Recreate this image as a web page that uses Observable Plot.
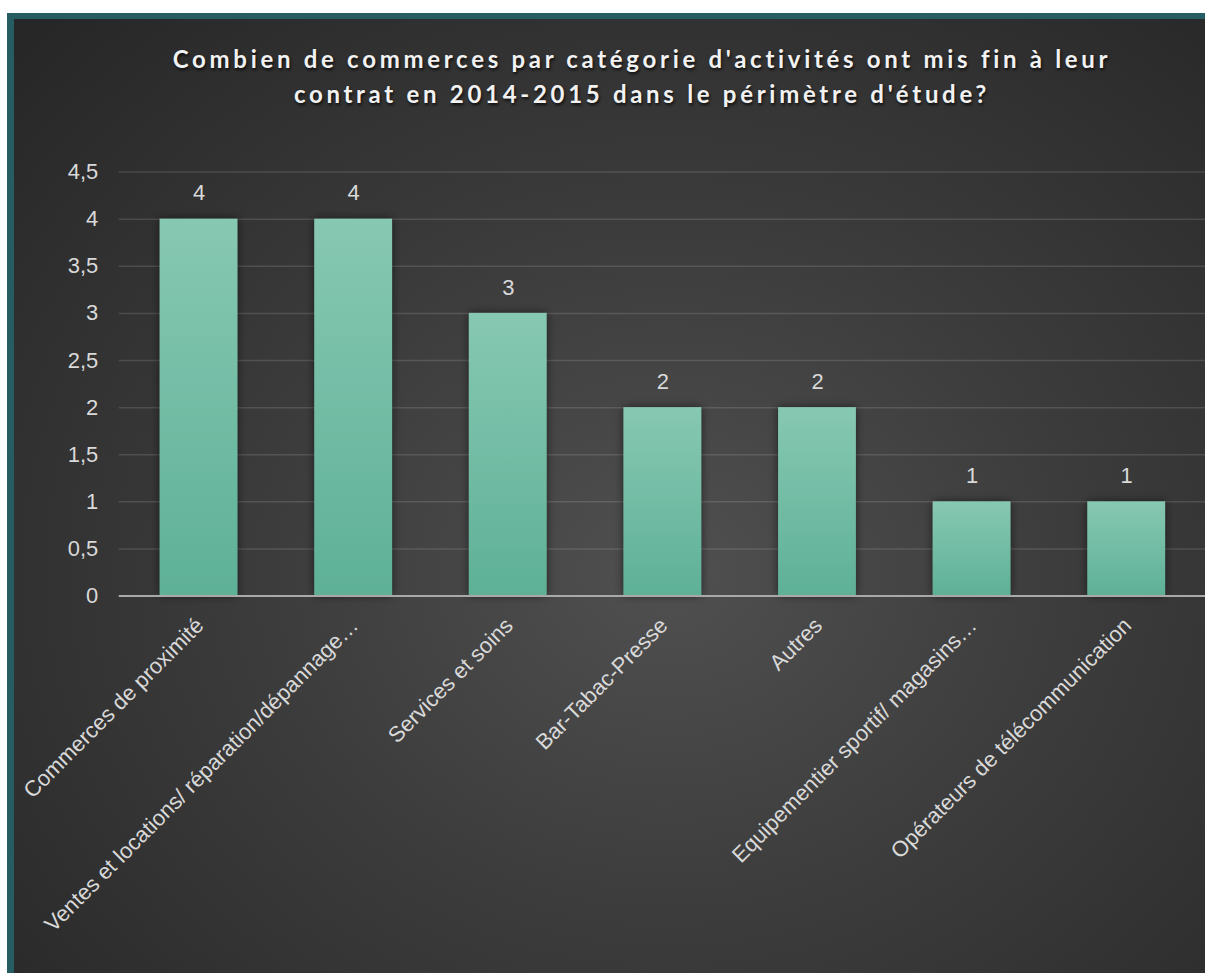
<!DOCTYPE html>
<html>
<head>
<meta charset="utf-8">
<script src="https://cdn.jsdelivr.net/npm/d3@7"></script>
<script src="https://cdn.jsdelivr.net/npm/@observablehq/plot@0.6"></script>
<style>
  html, body { margin: 0; padding: 0; background: #ffffff; width: 1205px; height: 973px; overflow: hidden; }
  #frame {
    position: absolute; left: 7px; top: 13px; width: 1198px; height: 960px;
    box-sizing: border-box;
    border-left: 7px solid #265d62; border-top: 6px solid #265d62;
    background: radial-gradient(ellipse 75% 80% at 55% 58%, #505050 0%, #3c3c3c 45%, #272727 100%);
    overflow: hidden;
  }
  #title {
    position: absolute; left: 628px; top: 22px; transform: translateX(-50%);
    white-space: nowrap; text-align: center;
    font-family: Lato, "Open Sans", sans-serif; font-weight: 700; font-size: 24px;
    line-height: 35px; letter-spacing: 3.7px; color: #f2f2f2;
    text-shadow: 1px 2px 3px rgba(0,0,0,0.75);
  }
  #chart { position: absolute; left: 0; top: 0; }
</style>
</head>
<body>
<div id="frame">
  <div id="title">Combien de commerces par catégorie d'activités ont mis fin à leur<br>contrat en 2014-2015 dans le périmètre d'étude?</div>
  <div id="chart"></div>
</div>
<script>
const categories = [
  "Commerces de proximité",
  "Ventes et locations/ réparation/dépannage…",
  "Services et soins",
  "Bar-Tabac-Presse",
  "Autres",
  "Equipementier sportif/ magasins…",
  "Opérateurs de télécommunication"
];
const counts = [4, 4, 3, 2, 2, 1, 1];
const yTicks = [0, 0.5, 1, 1.5, 2, 2.5, 3, 3.5, 4, 4.5];
const yTickLabels = ["0", "0,5", "1", "1,5", "2", "2,5", "3", "3,5", "4", "4,5"];

const data = categories.map((c, i) => ({category: c, value: counts[i]}));
const gridTicks = yTicks.filter(t => t !== 0);

const gradientDefs = () => {
  const defs = d3.create("svg:defs");
  const g = defs.append("linearGradient").attr("id", "barGrad")
    .attr("x1", 0).attr("y1", 0).attr("x2", 0).attr("y2", 1);
  g.append("stop").attr("offset", "0%").attr("stop-color", "#87c8b2");
  g.append("stop").attr("offset", "100%").attr("stop-color", "#5eb097");
  const f = defs.append("filter").attr("id", "barShadow")
    .attr("x", "-30%").attr("y", "-10%").attr("width", "160%").attr("height", "120%");
  f.append("feDropShadow").attr("dx", 0).attr("dy", 0).attr("stdDeviation", 5)
    .attr("flood-color", "#000").attr("flood-opacity", 0.55);
  return defs.node();
};

const chart = Plot.plot({
  width: 1194,
  height: 954,
  marginLeft: 105,
  marginRight: 0,
  marginTop: 153,
  marginBottom: 376,
  style: { background: "transparent", fontFamily: "'Liberation Sans', Arial, sans-serif", overflow: "visible" },
  x: { domain: categories, paddingInner: 0.5, paddingOuter: 0.25, axis: null },
  y: { domain: [0, 4.5], axis: null },
  marks: [
    gradientDefs,
    Plot.ruleY(gridTicks, { stroke: "#ffffff", strokeOpacity: 0.13, strokeWidth: 1.5 }),
    Plot.axisY(yTicks, {
      label: null, tickSize: 0, tickPadding: 21, fontSize: 22, color: "#d9d9d9",
      tickFormat: (d) => yTickLabels[yTicks.indexOf(d)]
    }),
    Plot.barY(data, { x: "category", y: "value", fill: "url(#barGrad)" }),
    Plot.ruleY([0], { stroke: "#a9a9a9", strokeWidth: 2 }),
    Plot.text(data, {
      x: "category", y: "value", text: (d) => String(d.value),
      dy: -26, fontSize: 22, fill: "#d9d9d9"
    }),
    Plot.text(data, {
      x: "category", y: () => 0, text: "category",
      rotate: -45, textAnchor: "end", lineAnchor: "middle",
      dx: 1, dy: 26, fontSize: 22, fill: "#d9d9d9"
    })
  ]
});
chart.querySelectorAll("g[aria-label='bar'] rect").forEach(r => r.setAttribute("filter", "url(#barShadow)"));
document.getElementById("chart").appendChild(chart);
</script>
</body>
</html>
